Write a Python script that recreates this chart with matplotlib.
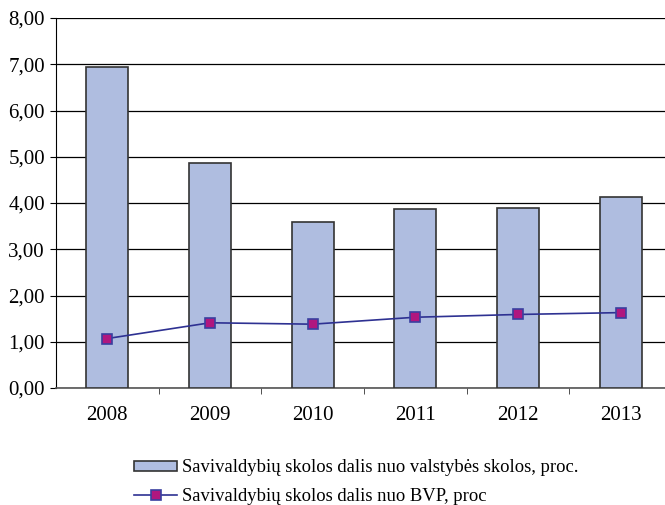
import matplotlib.pyplot as plt
import numpy as np

# Data
years = ["2008", "2009", "2010", "2011", "2012", "2013"]
valst_skola = [6.93, 4.87, 3.59, 3.86, 3.90, 4.14]
bvp = [1.07, 1.41, 1.38, 1.53, 1.59, 1.63]
label_bars = "Savivaldybių skolos dalis nuo valstybės skolos, proc."
label_line = "Savivaldybių skolos dalis nuo BVP, proc"

plt.rcParams["font.family"] = ["Liberation Serif", "DejaVu Serif"]

fig = plt.figure(figsize=(6.65, 5.05), dpi=100)
# plot area runs slightly past the right edge of the picture
ax = fig.add_axes([56 / 665, 1 - 388 / 505, 616 / 665, 370 / 505])

x = np.arange(len(years))
bars = ax.bar(x, valst_skola, width=0.41, color="#AFBDE0", edgecolor="#333333",
              linewidth=1.2, zorder=3, label=label_bars)
line, = ax.plot(x, bvp, color="#2E3192", linewidth=1.2, marker="s", markersize=7,
                markerfacecolor="#B0177F", markeredgecolor="#3A3FA0",
                markeredgewidth=1.2, zorder=4, label=label_line)

ax.set_xlim(-0.5, 5.5)
ax.set_ylim(0, 8)
ax.set_yticks(np.arange(0, 9, 1))
ax.set_yticklabels([f"{v:.2f}".replace(".", ",") for v in range(0, 9)])
ax.yaxis.grid(True, color="black", linewidth=0.9, zorder=0)
ax.set_axisbelow(True)

ax.set_xticks(x)
ax.set_xticklabels(years)
ax.tick_params(axis="x", length=0, pad=13, labelsize=15)
ax.set_xticks(np.arange(0.5, 5.5, 1), minor=True)
ax.tick_params(axis="x", which="minor", length=4, color="#333333", direction="out")
ax.tick_params(axis="y", length=4, direction="out", labelsize=15, pad=4)

for s in ["top", "right"]:
    ax.spines[s].set_visible(False)
ax.spines["left"].set_color("black")
ax.spines["bottom"].set_color("#555555")
ax.spines["bottom"].set_linewidth(1.2)

fig.legend(handles=[bars, line], loc="upper left",
           bbox_to_anchor=(127 / 665, 1 - 452 / 505),
           frameon=False, fontsize=13.4, handlelength=2.3, handleheight=0.45,
           handletextpad=0.25, labelspacing=0.6, borderaxespad=0)

fig.savefig("out.png", dpi=100)
